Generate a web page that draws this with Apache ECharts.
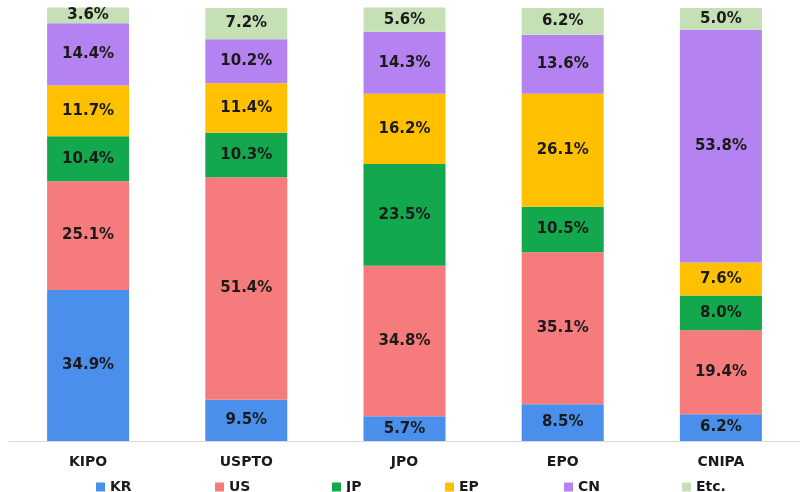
<!DOCTYPE html>
<html>
<head>
<meta charset="utf-8">
<script src="https://cdn.jsdelivr.net/npm/echarts@6/dist/echarts.min.js"></script>
<style>
  html, body { margin: 0; padding: 0; background: #fff; }
  #chart { width: 800px; height: 492px; }
</style>
</head>
<body>
<div id="chart"></div>
<script>
var offices = ['KIPO', 'USPTO', 'JPO', 'EPO', 'CNIPA'];
var kr = [34.9, 9.5, 5.7, 8.5, 6.2];
var us = [25.1, 51.4, 34.8, 35.1, 19.4];
var jp = [10.4, 10.3, 23.5, 10.5, 8.0];
var ep = [11.7, 11.4, 16.2, 26.1, 7.6];
var cn = [14.4, 10.2, 14.3, 13.6, 53.8];
var etc = [3.6, 7.2, 5.6, 6.2, 5.0];

var names = ['KR', 'US', 'JP', 'EP', 'CN', 'Etc.'];
var values = [kr, us, jp, ep, cn, etc];
var colors = ['#4A8FEC', '#F67B7C', '#14A84E', '#FFC000', '#B583F1', '#C6E0B5'];

var chart = echarts.init(document.getElementById('chart'));

var font = {
  color: '#1a1a1a',
  fontWeight: 'bold',
  fontSize: 14,
  fontFamily: 'DejaVu Sans'
};

var series = names.map(function (n, i) {
  return {
    name: n,
    type: 'bar',
    stack: 'total',
    barWidth: 82,
    clip: false,
    itemStyle: { color: colors[i] },
    label: Object.assign({}, font, {
      show: true,
      position: 'inside',
      fontSize: 15,
      formatter: function (p) { return p.value.toFixed(1) + '%'; }
    }),
    data: values[i]
  };
});

// one legend per item so the spacing is even like the original
var legendLeft = [91, 210, 327, 440, 559, 677];
var legends = names.map(function (n, i) {
  return {
    data: [n],
    left: legendLeft[i],
    top: 475,
    icon: 'rect',
    itemWidth: 9,
    itemHeight: 9,
    textStyle: font
  };
});

var option = {
  animation: false,
  color: colors,
  grid: { left: 9, right: -9, top: 8, bottom: 51 },
  legend: legends,
  xAxis: {
    type: 'category',
    data: offices,
    axisTick: { show: false },
    axisLine: { lineStyle: { color: '#d9d9d9', width: 1 } },
    axisLabel: Object.assign({ margin: 14 }, font)
  },
  yAxis: {
    type: 'value',
    min: 0,
    max: 100,
    show: false,
    splitLine: { show: false }
  },
  series: series
};

chart.setOption(option);
</script>
</body>
</html>
